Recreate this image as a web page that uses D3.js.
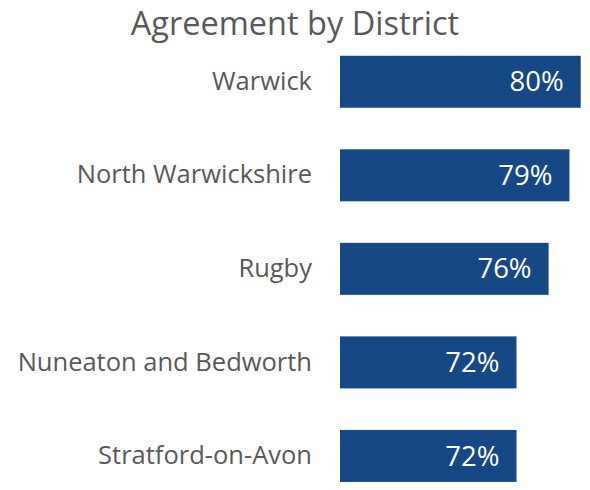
<!DOCTYPE html>
<html>
<head>
<meta charset="utf-8">
<script src="https://cdn.jsdelivr.net/npm/d3@7"></script>
<style>
  body { margin: 0; background: #fff; }
  text { font-family: "Open Sans", sans-serif; }
</style>
</head>
<body>
<div id="chart"></div>
<script>
/* Agreement by District - horizontal bars */

const districts = ["Warwick", "North Warwickshire", "Rugby", "Nuneaton and Bedworth", "Stratford-on-Avon"];
const agreement = [80, 78.6, 76, 72, 72];   // percent
const xDomain = [50, 80];

const width = 590,
    height = 490,
    margin = ({top: 35, right: 9, bottom: 0, left: 340});

const data = districts.map((d, i) => ({district: d, value: agreement[i]}));

const svg = d3.select("#chart")
    .append("svg")
    .attr("width", width)
    .attr("height", height);

let x = d3.scaleLinear()
    .domain(xDomain)
    .range([margin.left, 580.7]);

let y = d3.scaleBand()
    .domain(districts)
    .range([margin.top, 502.7])
    .paddingInner(0.444)
    .paddingOuter(0.222);

// title
svg.append("text")
    .attr("x", 295)
    .attr("y", 35)
    .attr("text-anchor", "middle")
    .attr("font-size", 32.5)
    .attr("fill", "#595959")
    .text("Agreement by District");

// category axis
const yAxis = svg.append("g")
    .attr("transform", `translate(${margin.left - 28},0)`)
    .call(d3.axisLeft(y).tickSize(0).tickPadding(0));

yAxis.select(".domain").remove();
yAxis.selectAll("text")
    .attr("font-size", 25.5)
    .attr("font-family", "Open Sans, sans-serif")
    .attr("fill", "#595959");

svg.append("g")
    .selectAll("rect")
    .data(data)
    .join("rect")
    .attr("x", x(xDomain[0]))
    .attr("y", d => y(d.district))
    .attr("width", d => x(d.value) - x(xDomain[0]))
    .attr("height", y.bandwidth())
    .attr("fill", "#154884");

svg.append("g")
    .selectAll("text")
    .data(data)
    .join("text")
    .attr("x", d => x(d.value) - 17)
    .attr("y", d => y(d.district) + y.bandwidth() / 2)
    .attr("dy", "0.35em")
    .attr("text-anchor", "end")
    .attr("font-size", 27.5)
    .attr("fill", "#fff")
    .text(d => Math.round(d.value) + "%");
</script>
</body>
</html>
